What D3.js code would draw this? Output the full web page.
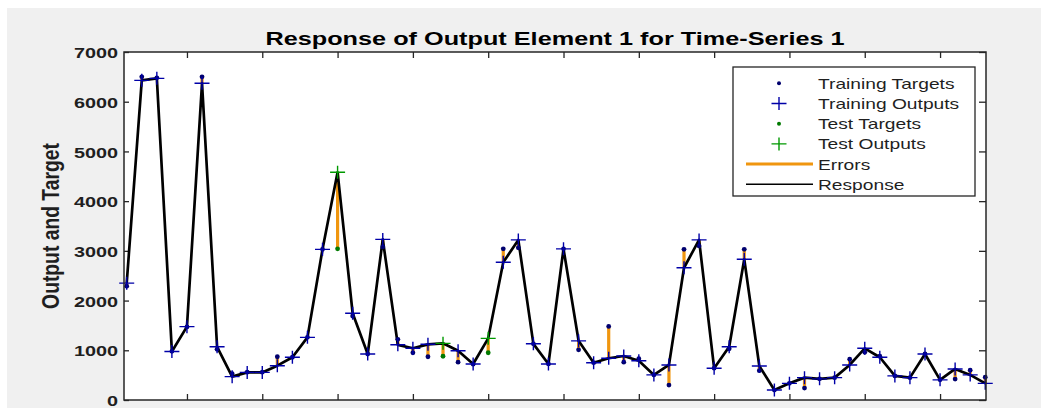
<!DOCTYPE html>
<html>
<head>
<meta charset="utf-8">
<script src="https://cdn.jsdelivr.net/npm/d3@7"></script>
<style>
  html, body { margin: 0; padding: 0; background: #ffffff; }
  svg { display: block; }
  text { font-family: "Liberation Sans", Arial, sans-serif; }
</style>
</head>
<body>
<svg id="chart" width="1041" height="408"></svg>
<script>
// Time steps of the series (1..58)
const timeSteps = d3.range(1, 59);

// Network outputs for each time step
const outputs = [
  2350, 6430, 6470, 975, 1475, 6370, 1070, 470, 555, 555,
  690, 860, 1260, 3030, 4580, 1745, 925, 3230, 1110, 1040,
  1120, 1140, 990, 725, 1240, 2770, 3220, 1130, 725, 3040,
  1190, 750, 840, 885, 790, 505, 705, 2660, 3220, 640,
  1070, 2830, 685, 200, 335, 450, 425, 450, 705, 1040,
  860, 485, 450, 925, 405, 625, 505, 335
];

// Target values for each time step
const targets = [
  2290, 6500, 6480, 980, 1470, 6500, 1020, 530, 560, 560,
  870, 860, 1260, 3030, 3040, 1690, 925, 3080, 1220, 950,
  870, 880, 760, 720, 950, 3040, 3060, 1130, 725, 3040,
  1010, 750, 1480, 760, 830, 505, 300, 3030, 3100, 640,
  1030, 3030, 590, 200, 335, 240, 425, 450, 820, 960,
  880, 485, 450, 925, 405, 420, 600, 460
];

// Time steps held out as the test set
const testSteps = [15, 22, 25];

// Axis ticks
const yTicks = [0, 1000, 2000, 3000, 4000, 5000, 6000, 7000];
const xTicks = [5, 10, 15, 20, 25, 30, 35, 40, 45, 50, 55];

// Legend entries
const legendLabels = ["Training Targets", "Training Outputs", "Test Targets", "Test Outputs", "Errors", "Response"];

const titleText = "Response of Output Element 1 for Time-Series 1";
const yLabelText = "Output and Target";

const W = 1041, H = 408;
const plot = { left: 124, right: 986, top: 52, bottom: 400 };
const sx = 1.28; // horizontal text stretch

const colTrainTarget = "#00006e";
const colTrainOutput = "#0000a8";
const colTestTarget = "#007a00";
const colTestOutput = "#009900";
const colError = "#f0960f";
const colText = "#1f1f1f";

const svg = d3.select("#chart");

// figure background
svg.append("rect").attr("x", 7).attr("y", 8).attr("width", W - 7).attr("height", H - 8).attr("fill", "#f0f0f0");

const x = d3.scaleLinear().domain([0.82, 58.05]).range([plot.left, plot.right]);
const y = d3.scaleLinear().domain([0, 7000]).range([plot.bottom, plot.top]);

// plot area
svg.append("rect")
  .attr("x", plot.left).attr("y", plot.top)
  .attr("width", plot.right - plot.left).attr("height", plot.bottom - plot.top)
  .attr("fill", "#ffffff");

const rows = timeSteps.map((t, i) => ({
  t, out: outputs[i], tgt: targets[i], test: testSteps.includes(t)
}));

// axes with inward ticks
const gLeft = svg.append("g").attr("transform", `translate(${plot.left},0)`)
  .call(d3.axisLeft(y).tickValues(yTicks).tickSizeInner(-5).tickSizeOuter(0).tickPadding(6).tickFormat(d3.format("d")));
const gRight = svg.append("g").attr("transform", `translate(${plot.right},0)`)
  .call(d3.axisRight(y).tickValues(yTicks).tickSizeInner(-7).tickSizeOuter(0).tickFormat(""));
const gBottom = svg.append("g").attr("transform", `translate(0,${plot.bottom})`)
  .call(d3.axisBottom(x).tickValues(xTicks).tickSizeInner(-6).tickSizeOuter(0).tickFormat(""));
const gTop = svg.append("g").attr("transform", `translate(0,${plot.top})`)
  .call(d3.axisTop(x).tickValues(xTicks).tickSizeInner(-6).tickSizeOuter(0).tickFormat(""));

[gLeft, gRight, gBottom, gTop].forEach(g => {
  g.select(".domain").remove();
  g.selectAll(".tick line").attr("stroke", "#262626").attr("stroke-width", 1.3);
});
gLeft.selectAll(".tick text")
  .attr("x", null).attr("dy", "0.36em")
  .attr("transform", `translate(-6,0) scale(${sx},1)`)
  .attr("text-anchor", "end")
  .attr("font-size", 15.5).attr("font-weight", "bold")
  .attr("font-family", "'Liberation Sans', Arial, sans-serif")
  .attr("fill", colText);

// error bars: target to output
svg.append("g").selectAll("line").data(rows).join("line")
  .attr("x1", d => x(d.t)).attr("x2", d => x(d.t))
  .attr("y1", d => y(d.tgt)).attr("y2", d => y(d.out))
  .attr("stroke", colError).attr("stroke-width", 3.2);

// response line
svg.append("path").datum(rows)
  .attr("d", d3.line().x(d => x(d.t)).y(d => y(d.out)))
  .attr("fill", "none").attr("stroke", "#000").attr("stroke-width", 2.7)
  .attr("stroke-linejoin", "round");

// targets
svg.append("g").selectAll("circle").data(rows).join("circle")
  .attr("cx", d => x(d.t)).attr("cy", d => y(d.tgt)).attr("r", 2.4)
  .attr("fill", d => d.test ? colTestTarget : colTrainTarget);

// outputs as plus markers
const plus = (cx, cy, hw, hh) => `M${cx - hw},${cy}H${cx + hw}M${cx},${cy - hh}V${cy + hh}`;
svg.append("g").selectAll("path").data(rows).join("path")
  .attr("d", d => plus(x(d.t), y(d.out), 7.5, 6.5))
  .attr("stroke", d => d.test ? colTestOutput : colTrainOutput)
  .attr("stroke-width", 1.4).attr("fill", "none");

// plot box
svg.append("rect")
  .attr("x", plot.left).attr("y", plot.top)
  .attr("width", plot.right - plot.left).attr("height", plot.bottom - plot.top)
  .attr("fill", "none").attr("stroke", "#262626").attr("stroke-width", 1.5);

// title
svg.append("text")
  .attr("transform", `translate(${(plot.left + plot.right) / 2},45) scale(1.33,1)`)
  .attr("text-anchor", "middle").attr("font-size", 19).attr("font-weight", "bold")
  .attr("fill", "#000").text(titleText);

// y axis label
svg.append("text")
  .attr("transform", `translate(58.5,${(plot.top + plot.bottom) / 2}) scale(${sx},1) rotate(-90)`)
  .attr("text-anchor", "middle").attr("font-size", 19.3).attr("font-weight", "bold")
  .attr("fill", colText).text(yLabelText);

// legend
const lg = { left: 733, top: 67, right: 975, bottom: 196 };
const legend = svg.append("g");
legend.append("rect")
  .attr("x", lg.left).attr("y", lg.top)
  .attr("width", lg.right - lg.left).attr("height", lg.bottom - lg.top)
  .attr("fill", "#fff").attr("stroke", "#262626").attr("stroke-width", 1.3);

const rowY = i => 83.3 + i * 20.2;
const mx = 779;
legend.append("circle").attr("cx", mx).attr("cy", rowY(0)).attr("r", 2).attr("fill", colTrainTarget);
legend.append("path").attr("d", plus(mx, rowY(1), 7.5, 6.5)).attr("stroke", colTrainOutput).attr("stroke-width", 1.4);
legend.append("circle").attr("cx", mx).attr("cy", rowY(2)).attr("r", 2).attr("fill", colTestTarget);
legend.append("path").attr("d", plus(mx, rowY(3), 7.5, 6.5)).attr("stroke", colTestOutput).attr("stroke-width", 1.4);
legend.append("line").attr("x1", 746).attr("x2", 813).attr("y1", rowY(4)).attr("y2", rowY(4))
  .attr("stroke", colError).attr("stroke-width", 3);
legend.append("line").attr("x1", 746).attr("x2", 813).attr("y1", rowY(5)).attr("y2", rowY(5))
  .attr("stroke", "#000").attr("stroke-width", 1.5);

legend.selectAll("text.lab").data(legendLabels).join("text")
  .attr("class", "lab")
  .attr("transform", (d, i) => `translate(818,${rowY(i)}) scale(${sx},1)`)
  .attr("dy", "0.36em").attr("font-size", 15).attr("fill", colText)
  .text(d => d);
</script>
</body>
</html>
